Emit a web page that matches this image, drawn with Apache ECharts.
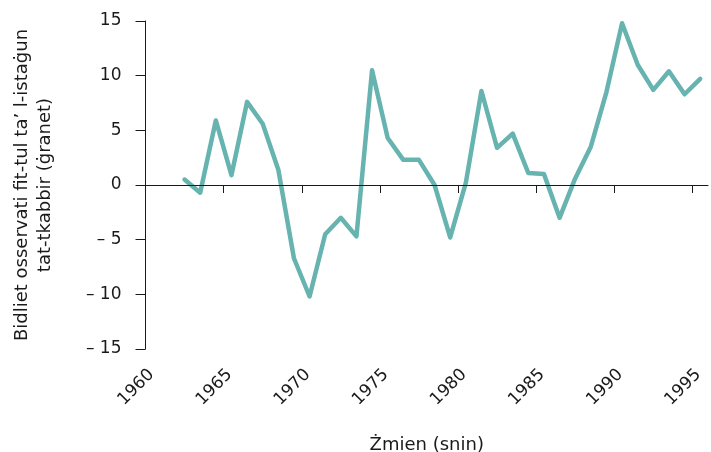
<!DOCTYPE html>
<html>
<head>
<meta charset="utf-8">
<script src="https://cdn.jsdelivr.net/npm/echarts@6/dist/echarts.min.js"></script>
<style>
  html, body { margin: 0; padding: 0; background: #fff; }
  #chart { width: 711px; height: 452px; }
</style>
</head>
<body>
<div id="chart"></div>
<script>
// years are mid-year points
const years = [
  1962.5, 1963.5, 1964.5, 1965.5, 1966.5, 1967.5, 1968.5, 1969.5, 1970.5, 1971.5,
  1972.5, 1973.5, 1974.5, 1975.5, 1976.5, 1977.5, 1978.5, 1979.5, 1980.5, 1981.5,
  1982.5, 1983.5, 1984.5, 1985.5, 1986.5, 1987.5, 1988.5, 1989.5, 1990.5, 1991.5,
  1992.5, 1993.5, 1994.5, 1995.5
];
const daysChange = [
  0.5, -0.7, 5.9, 0.9, 7.6, 5.6, 1.4, -6.7, -10.2, -4.5,
  -3.0, -4.7, 10.5, 4.3, 2.3, 2.3, 0.0, -4.8, 0.2, 8.6,
  3.4, 4.7, 1.1, 1.0, -3.0, 0.6, 3.5, 8.5, 14.8, 11.0,
  8.7, 10.4, 8.3, 9.7
];
const xTicks = [1960, 1965, 1970, 1975, 1980, 1985, 1990, 1995];
const yTicks = [-15, -10, -5, 0, 5, 10, 15];

const xName = 'Żmien (snin)';
const yName = 'Bidliet osservati fit-tul ta’ l-istaġun\ntat-tkabbir (ġranet)';

const font = 'DejaVu Sans';
const ink = '#1a1a1a';

let chart = echarts.init(document.getElementById('chart'));

chart.setOption({
  animation: false,
  grid: { left: 145.5, right: 3, top: 21, bottom: 103, containLabel: false, outerBoundsMode: 'none' },
  xAxis: {
    type: 'value',
    min: 1960,
    max: 1996,
    interval: 5,
    name: xName,
    nameLocation: 'middle',
    nameGap: 87,
    nameTextStyle: { fontFamily: font, fontSize: 18, color: ink },
    axisLine: { show: true, lineStyle: { color: ink, width: 1 } },
    axisTick: { show: true, length: 8, lineStyle: { color: ink }, customValues: xTicks },
    axisLabel: {
      rotate: 45, margin: 17, fontFamily: font, fontSize: 17, color: ink,
      verticalAlign: 'top',
      customValues: xTicks,
      formatter: v => String(v)
    },
    splitLine: { show: false }
  },
  yAxis: {
    type: 'value',
    min: -15,
    max: 15,
    interval: 5,
    name: yName,
    nameLocation: 'middle',
    nameGap: 89,
    nameTextStyle: { fontFamily: font, fontSize: 18, color: ink, lineHeight: 23 },
    axisLine: { show: true, lineStyle: { color: ink, width: 1 } },
    axisTick: { show: true, length: 10, lineStyle: { color: ink }, customValues: yTicks },
    axisLabel: {
      margin: 24, fontFamily: font, fontSize: 17, color: ink,
      customValues: yTicks,
      formatter: v => (v < 0 ? '– ' + Math.abs(v) : String(v))
    },
    splitLine: { show: false }
  },
  series: [
    {
      type: 'line',
      data: years.map((y, i) => [y, daysChange[i]]),
      showSymbol: false,
      lineStyle: { color: '#66b3b0', width: 4.5, join: 'round', cap: 'round' },
      itemStyle: { color: '#66b3b0' },
      markLine: {
        silent: true,
        symbol: 'none',
        label: { show: false },
        lineStyle: { color: ink, width: 1, type: 'solid' },
        data: [{ yAxis: 0 }]
      },
      z: 3
    }
  ]
});
</script>
</body>
</html>
